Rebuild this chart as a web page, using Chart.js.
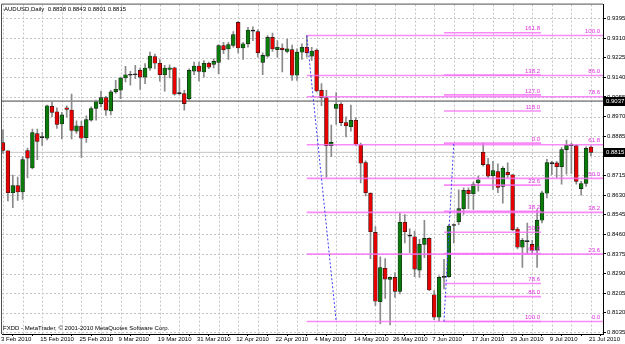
<!DOCTYPE html>
<html><head><meta charset="utf-8">
<script src="https://cdn.jsdelivr.net/npm/chart.js@4.4.1/dist/chart.umd.min.js"></script>
<style>html,body{margin:0;padding:0;background:#fff;overflow:hidden}#wrap{width:625px;height:344px}</style>
</head><body><div id="wrap"><canvas id="c" width="625" height="344"></canvas></div>
<script>
const symbol = 'AUDUSD';
const period = 'Daily';
const xTickLabels = ['3 Feb 2010','15 Feb 2010','25 Feb 2010','9 Mar 2010','19 Mar 2010','31 Mar 2010','12 Apr 2010','22 Apr 2010','4 May 2010','14 May 2010','26 May 2010','7 Jun 2010','17 Jun 2010','29 Jun 2010','9 Jul 2010','21 Jul 2010'];
const yTicks = [0.8035,0.8120,0.8205,0.8290,0.8375,0.8460,0.8545,0.8630,0.8715,0.8800,0.8885,0.8970,0.9055,0.9140,0.9225,0.9310,0.9395];

const openP = [0.8857,0.8822,0.8640,0.8671,0.8643,0.8823,0.8747,0.8896,0.8879,0.8876,
 0.9015,0.8991,0.8938,0.9008,0.8998,0.8907,0.8928,0.8878,0.8954,0.9005,
 0.9026,0.9052,0.8994,0.9077,0.9084,0.9137,0.9150,0.9151,0.9171,0.9141,
 0.9180,0.9230,0.9201,0.9151,0.9174,0.9181,0.9069,0.9070,0.9048,0.9167,
 0.9189,0.9163,0.9201,0.9196,0.9205,0.9278,0.9263,0.9278,0.9378,0.9267,
 0.9285,0.9341,0.9338,0.9205,0.9232,0.9313,0.9260,0.9267,0.9252,0.9260,
 0.9149,0.9249,0.9270,0.9232,0.9257,0.9084,0.9052,0.8844,0.9005,0.9024,
 0.8944,0.8926,0.8954,0.8848,0.8771,0.8638,0.8468,0.8168,0.8313,0.8264,
 0.8273,0.8213,0.8512,0.8453,0.8449,0.8305,0.8416,0.8442,0.8198,0.8101,
 0.8273,0.8276,0.8498,0.8514,0.8571,0.8650,0.8636,0.8683,0.8815,0.8762,
 0.8714,0.8732,0.8667,0.8729,0.8718,0.8483,0.8404,0.8429,0.8416,0.8391,
 0.8521,0.8638,0.8767,0.8769,0.8753,0.8827,0.8846,0.8844,0.8658,0.8680,
 0.8838];
const highP = [0.8913,0.8823,0.8716,0.8708,0.8797,0.8833,0.8916,0.8916,0.8902,0.9020,
 0.9034,0.9008,0.8988,0.9017,0.9067,0.8952,0.8950,0.8973,0.9012,0.9041,
 0.9079,0.9058,0.9084,0.9127,0.9141,0.9188,0.9166,0.9192,0.9181,0.9199,
 0.9249,0.9241,0.9217,0.9192,0.9194,0.9184,0.9134,0.9084,0.9177,0.9206,
 0.9206,0.9213,0.9206,0.9220,0.9282,0.9292,0.9292,0.9338,0.9381,0.9292,
 0.9356,0.9359,0.9346,0.9246,0.9321,0.9332,0.9299,0.9285,0.9306,0.9280,
 0.9263,0.9285,0.9321,0.9270,0.9263,0.9113,0.9084,0.8933,0.9074,0.9030,
 0.8969,0.9020,0.8964,0.8855,0.8778,0.8640,0.8493,0.8362,0.8355,0.8276,
 0.8294,0.8552,0.8545,0.8484,0.8474,0.8438,0.8520,0.8445,0.8216,0.8280,
 0.8352,0.8502,0.8505,0.8653,0.8661,0.8661,0.8686,0.8712,0.8855,0.8789,
 0.8776,0.8765,0.8753,0.8770,0.8720,0.8490,0.8442,0.8509,0.8434,0.8567,
 0.8647,0.8785,0.8776,0.8776,0.8836,0.8868,0.8855,0.8846,0.8689,0.8839,
 0.8843];
const lowP = [0.8810,0.8604,0.8575,0.8607,0.8611,0.8704,0.8743,0.8783,0.8844,0.8869,
 0.8969,0.8919,0.8873,0.8967,0.8873,0.8897,0.8793,0.8858,0.8950,0.8954,
 0.9012,0.8975,0.8977,0.9070,0.9048,0.9120,0.9106,0.9134,0.9088,0.9113,
 0.9170,0.9177,0.9123,0.9080,0.9137,0.9063,0.9063,0.8998,0.9041,0.9151,
 0.9124,0.9141,0.9177,0.9181,0.9155,0.9242,0.9217,0.9271,0.9246,0.9217,
 0.9271,0.9299,0.9227,0.9151,0.9227,0.9252,0.9227,0.9163,0.9246,0.9127,
 0.9127,0.9217,0.9227,0.9213,0.9077,0.9017,0.8707,0.8796,0.8936,0.8930,
 0.8882,0.8907,0.8844,0.8683,0.8626,0.8354,0.8151,0.8073,0.8182,0.8067,
 0.8187,0.8202,0.8423,0.8380,0.8276,0.8273,0.8359,0.8216,0.8090,0.8082,
 0.8223,0.8273,0.8423,0.8502,0.8546,0.8571,0.8568,0.8647,0.8755,0.8705,
 0.8654,0.8640,0.8595,0.8705,0.8476,0.8397,0.8316,0.8374,0.8374,0.8316,
 0.8509,0.8618,0.8718,0.8705,0.8677,0.8720,0.8724,0.8677,0.8629,0.8667,
 0.8801];
const closeP = [0.8823,0.8640,0.8671,0.8643,0.8784,0.8790,0.8901,0.8862,0.8881,0.9017,
 0.8988,0.8936,0.8977,0.9001,0.8910,0.8930,0.8876,0.8957,0.9005,0.9034,
 0.9052,0.8998,0.9077,0.9088,0.9137,0.9151,0.9149,0.9152,0.9141,0.9180,
 0.9232,0.9201,0.9151,0.9180,0.9181,0.9067,0.9070,0.9026,0.9170,0.9189,
 0.9166,0.9201,0.9184,0.9209,0.9278,0.9259,0.9282,0.9325,0.9267,0.9285,
 0.9345,0.9340,0.9246,0.9235,0.9313,0.9263,0.9270,0.9260,0.9263,0.9149,
 0.9249,0.9270,0.9246,0.9254,0.9081,0.9052,0.8844,0.8858,0.9024,0.8944,
 0.8930,0.8954,0.8850,0.8768,0.8640,0.8471,0.8170,0.8316,0.8266,0.8273,
 0.8213,0.8512,0.8471,0.8452,0.8309,0.8416,0.8442,0.8219,0.8101,0.8273,
 0.8273,0.8495,0.8499,0.8571,0.8650,0.8636,0.8678,0.8696,0.8762,0.8712,
 0.8736,0.8663,0.8746,0.8718,0.8479,0.8404,0.8434,0.8428,0.8391,0.8521,
 0.8640,0.8771,0.8766,0.8753,0.8827,0.8846,0.8844,0.8689,0.8680,0.8832,
 0.8815];

// Fibonacci retracement #1 (ray to the right) and #2 (with extensions)
const fib1Levels = [0, 23.6, 38.2, 50, 61.8, 78.6, 86, 100];
const fib1Prices = [0.8082, 0.8374, 0.8555, 0.8702, 0.8848, 0.9056, 0.9148, 0.9321];
const fib1Bars = [62, 122.45];
const fib1Anchor = [[62, 0.9321], [68, 0.8082]];
const fib2Levels = [0, 23.6, 38.2, 50, 61.8, 78.6, 86, 100, 118, 127, 138.2, 161.8];
const fib2Prices = [0.8855, 0.8673, 0.8560, 0.8469, 0.8377, 0.8247, 0.8190, 0.8082, 0.8994, 0.9064, 0.9150, 0.9333];
const fib2Bars = [90, 109.8];
const fib2Anchor = [[90, 0.8082], [92, 0.8855]];
const hLinePrice = 0.9037;
const bidPrice = 0.8815;
const xRange = [-0.204, 122.45];
const yRange = [0.8028, 0.9455];

const FONT = '"Liberation Sans", Arial, sans-serif';
const idx = openP.map((_, i) => i);
const gridIdx = idx.filter(i => i % 4 === 0);
const bodyColors = idx.map(i => Math.abs(closeP[i] - openP[i]) < 0.00025 ? '#000000' : (closeP[i] > openP[i] ? '#0a7a0a' : '#e60000'));

function levelSegments(prices, bars) {
  const d = [];
  prices.forEach(p => { d.push({x: bars[0], y: p}, {x: bars[1], y: p}, {x: bars[1], y: null}); });
  return d;
}
const lineBase = {type: 'line', pointRadius: 0, fill: false, tension: 0, spanGaps: false};

const mtPlugin = {
  id: 'mt',
  beforeDatasetsDraw(chart) {
    const {ctx, chartArea: a, scales: {x, y}} = chart;
    ctx.save();
    ctx.strokeStyle = '#c6c6c6'; ctx.lineWidth = 1; ctx.setLineDash([2, 2]);
    x.ticks.forEach(t => {
      const px = Math.round(x.getPixelForValue(t.value)) + 0.5;
      ctx.beginPath(); ctx.moveTo(px, a.top); ctx.lineTo(px, a.bottom); ctx.stroke();
    });
    y.ticks.forEach(t => {
      const py = Math.round(y.getPixelForValue(t.value)) + 0.5;
      ctx.beginPath(); ctx.moveTo(a.left, py); ctx.lineTo(a.right, py); ctx.stroke();
    });
    ctx.restore();
  },
  afterDatasetsDraw(chart) {
    const {ctx, chartArea: a, scales: {x, y}} = chart;
    ctx.save();
    ctx.font = '6px ' + FONT;
    ctx.fillStyle = '#e030e0';
    ctx.textAlign = 'right'; ctx.textBaseline = 'bottom';
    fib1Levels.forEach((lv, k) => ctx.fillText(lv.toFixed(1), x.getPixelForValue(fib1Bars[1]) - 3, y.getPixelForValue(fib1Prices[k]) - 1));
    fib2Levels.forEach((lv, k) => ctx.fillText(lv.toFixed(1), x.getPixelForValue(fib2Bars[1]) - 1, y.getPixelForValue(fib2Prices[k]) - 1));
    const last = openP.length - 1;
    ctx.fillStyle = '#000'; ctx.textAlign = 'left'; ctx.textBaseline = 'middle';
    ctx.fillText(symbol + ',' + period + '  ' + [openP[last], highP[last], lowP[last], closeP[last]].map(v => v.toFixed(4)).join(' '), a.left + 2, a.top + 5);
    ctx.fillText('FXDD - MetaTrader, \u00A9 2001-2010 MetaQuotes Software Corp.', a.left + 1, a.bottom - 6);
    ctx.restore();
  },
  afterDraw(chart) {
    const {ctx, chartArea: a, scales: {y}} = chart;
    ctx.save();
    ctx.strokeStyle = '#505050'; ctx.lineWidth = 1;
    ctx.beginPath();
    ctx.moveTo(a.left - 0.5, a.bottom); ctx.lineTo(a.left - 0.5, a.top - 0.5); ctx.lineTo(a.right, a.top - 0.5);
    ctx.stroke();
    ctx.font = '6px ' + FONT;
    ctx.textAlign = 'left'; ctx.textBaseline = 'middle';
    [hLinePrice, bidPrice].forEach(v => {
      const py = Math.round(y.getPixelForValue(v));
      ctx.fillStyle = '#000'; ctx.fillRect(a.right + 1, py - 4, 22, 9);
      ctx.fillStyle = '#fff'; ctx.fillText(v.toFixed(4), a.right + 3, py + 0.5);
    });
    ctx.restore();
  }
};

new Chart(document.getElementById('c'), {
  type: 'bar',
  data: {
    datasets: [
      Object.assign({}, lineBase, {data: [{x: xRange[0], y: hLinePrice}, {x: xRange[1], y: hLinePrice}], borderColor: '#454545', borderWidth: 1, order: 6}),
      Object.assign({}, lineBase, {data: [{x: xRange[0], y: bidPrice}, {x: xRange[1], y: bidPrice}], borderColor: '#c4c4c4', borderWidth: 1, order: 5}),
      {type: 'bar', data: idx.map(i => ({x: i, y: [lowP[i], highP[i]]})), backgroundColor: '#8a8a8a', barThickness: 1, maxBarThickness: 1, grouped: false, order: 4},
      {type: 'bar', data: idx.map(i => ({x: i, y: [openP[i], closeP[i]]})), backgroundColor: bodyColors, borderColor: '#1a1a1a', borderWidth: 0.6, borderSkipped: false, barThickness: 3.8, maxBarThickness: 3.8, minBarLength: 1, grouped: false, order: 3},
      Object.assign({}, lineBase, {data: levelSegments(fib1Prices, fib1Bars), borderColor: 'rgba(246,110,246,0.8)', borderWidth: 1.6, order: 2}),
      Object.assign({}, lineBase, {data: levelSegments(fib2Prices, fib2Bars), borderColor: 'rgba(246,110,246,0.8)', borderWidth: 1.6, order: 2}),
      Object.assign({}, lineBase, {data: fib1Anchor.map(p => ({x: p[0], y: p[1]})), borderColor: '#3c3cff', borderWidth: 1, borderDash: [2, 2], order: 1}),
      Object.assign({}, lineBase, {data: fib2Anchor.map(p => ({x: p[0], y: p[1]})), borderColor: '#3c3cff', borderWidth: 1, borderDash: [2, 2], order: 1})
    ]
  },
  options: {
    responsive: false, animation: false, devicePixelRatio: 1, events: [],
    layout: {padding: {left: 2, top: 2, right: 0, bottom: 0}, autoPadding: false},
    plugins: {legend: {display: false}, tooltip: {enabled: false}},
    scales: {
      x: {
        type: 'linear', min: xRange[0], max: xRange[1], offset: false,
        afterBuildTicks: s => { s.ticks = gridIdx.map(v => ({value: v})); },
        afterFit: s => { s.height = 10; },
        grid: {drawOnChartArea: false, drawTicks: true, tickLength: 2, tickColor: '#000'},
        border: {display: true, color: '#000', width: 1},
        ticks: {autoSkip: false, maxRotation: 0, minRotation: 0, align: 'start', padding: 0, labelOffset: -2, color: '#000',
          font: {family: FONT, size: 6}, callback: v => (v % 8 === 0 ? xTickLabels[v / 8] : '')}
      },
      y: {
        type: 'linear', position: 'right', min: yRange[0], max: yRange[1],
        afterBuildTicks: s => { s.ticks = yTicks.map(v => ({value: v})); },
        afterFit: s => { s.width = 22; },
        grid: {drawOnChartArea: false, drawTicks: true, tickLength: 3, tickColor: '#000'},
        border: {display: true, color: '#000', width: 1},
        ticks: {autoSkip: false, padding: 1, color: '#000', font: {family: FONT, size: 6}, callback: v => v.toFixed(4)}
      }
    }
  },
  plugins: [mtPlugin]
});
</script>
</body></html>
